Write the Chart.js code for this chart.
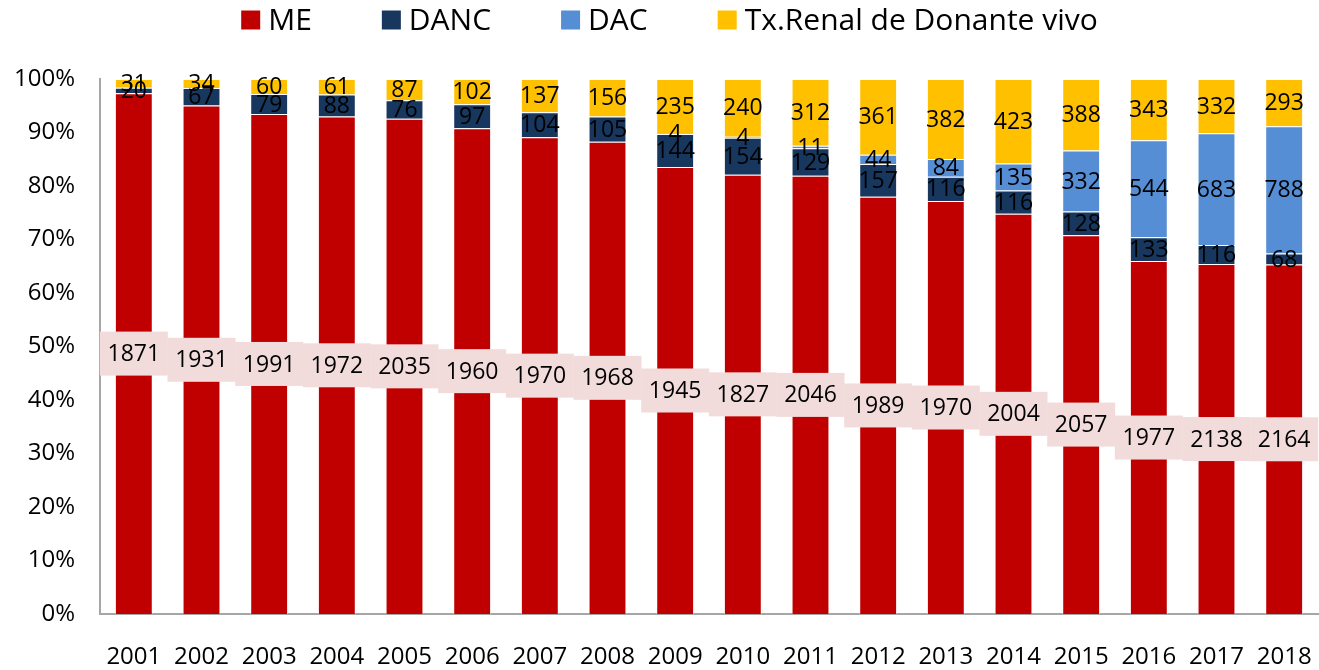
<!DOCTYPE html>
<html>
<head>
<meta charset="utf-8">
<script src="https://cdn.jsdelivr.net/npm/chart.js@4"></script>
<style>
  body { margin: 0; background: #fff; }
</style>
</head>
<body>
<canvas id="chart" width="1319" height="670"></canvas>
<script>
// Tx renal por tipo de donante
const years = ['2001','2002','2003','2004','2005','2006','2007','2008','2009','2010','2011','2012','2013','2014','2015','2016','2017','2018'];
const me = [1871,1931,1991,1972,2035,1960,1970,1968,1945,1827,2046,1989,1970,2004,2057,1977,2138,2164];
const danc = [20,67,79,88,76,97,104,105,144,154,129,157,116,116,128,133,116,68];
const dac = [0,0,0,0,0,0,0,0,4,4,11,44,84,135,332,544,683,788];
const vivo = [31,34,60,61,87,102,137,156,235,240,312,361,382,423,388,343,332,293];
const yTicks = ['0%','10%','20%','30%','40%','50%','60%','70%','80%','90%','100%'];

const raw = [me, danc, dac, vivo];
const totals = years.map((_, i) => raw.reduce((s, arr) => s + arr[i], 0));
const pct = arr => arr.map((v, i) => v / totals[i] * 100);

const FONT = "'Open Sans', sans-serif";

// draws the value in the middle of each segment
const segLabels = {
    id: 'segLabels',
    afterDatasetsDraw(chart) {
        const ctx = chart.ctx;
        ctx.save();
        ctx.font = '23px ' + FONT;
        ctx.textAlign = 'center';
        ctx.textBaseline = 'middle';
        chart.data.datasets.forEach((ds, di) => {
            const meta = chart.getDatasetMeta(di);
            meta.data.forEach((bar, i) => {
                const v = raw[di][i];
                if (!v) return;
                const y = (bar.y + bar.base) / 2;
                if (di === 0) {
                    ctx.fillStyle = '#f2dcdb';
                    ctx.fillRect(bar.x - 34, y - 22, 68, 44);
                }
                ctx.fillStyle = '#000';
                ctx.fillText(String(v), bar.x, y + 1);
            });
        });
        ctx.restore();
    }
};

// legend on top, with wide gaps between the items
const topLegend = {
    id: 'topLegend',
    afterDraw(chart) {
        const ctx = chart.ctx;
        const box = 19, gapText = 8, gapItem = 70, cy = 20;
        ctx.save();
        ctx.font = '30px ' + FONT;
        ctx.textBaseline = 'middle';
        const items = chart.data.datasets.map(ds => ({
            text: ds.label, color: ds.backgroundColor, w: ctx.measureText(ds.label).width
        }));
        const total = items.reduce((s, it) => s + box + gapText + it.w, 0) + gapItem * (items.length - 1);
        let x = (chart.width - total) / 2 + 10;
        items.forEach(it => {
            ctx.fillStyle = it.color;
            ctx.fillRect(x, cy - box / 2, box, box);
            ctx.fillStyle = '#000';
            ctx.fillText(it.text, x + box + gapText, cy + 1);
            x += box + gapText + it.w + gapItem;
        });
        ctx.restore();
    }
};

const mk = (label, arr, color) => ({
    label: label,
    data: pct(arr),
    backgroundColor: color,
    borderColor: 'rgba(255,255,255,0.6)',
    borderWidth: 1,
    barPercentage: 0.56,
    categoryPercentage: 1
});

new Chart(document.getElementById('chart'), {
    type: 'bar',
    data: {
        labels: years,
        datasets: [
            mk('ME', me, '#c00000'),
            mk('DANC', danc, '#17375e'),
            mk('DAC', dac, '#558ed5'),
            mk('Tx.Renal de Donante vivo', vivo, '#ffc000')
        ]
    },
    options: {
        responsive: false,
        animation: false,
        layout: { padding: { top: 79, right: 1, left: 0, bottom: 0 } },
        plugins: {
            legend: { display: false },
            tooltip: { enabled: false }
        },
        scales: {
            x: {
                stacked: true,
                grid: { display: false },
                border: { color: '#a6a6a6', width: 2 },
                ticks: { font: { size: 24, family: FONT }, color: '#000', padding: 21, maxRotation: 0 },
                afterFit: s => { s.height = 56; s.paddingLeft = 0; s.paddingRight = 0; }
            },
            y: {
                stacked: true,
                min: 0,
                max: 100,
                grid: { display: false },
                border: { color: '#a6a6a6', width: 2 },
                ticks: {
                    stepSize: 10,
                    font: { size: 24, family: FONT },
                    color: '#000',
                    padding: 17,
                    callback: v => yTicks[Math.round(v / 10)]
                },
                afterFit: s => { s.width = 100; }
            }
        }
    },
    plugins: [segLabels, topLegend]
});
</script>
</body>
</html>
